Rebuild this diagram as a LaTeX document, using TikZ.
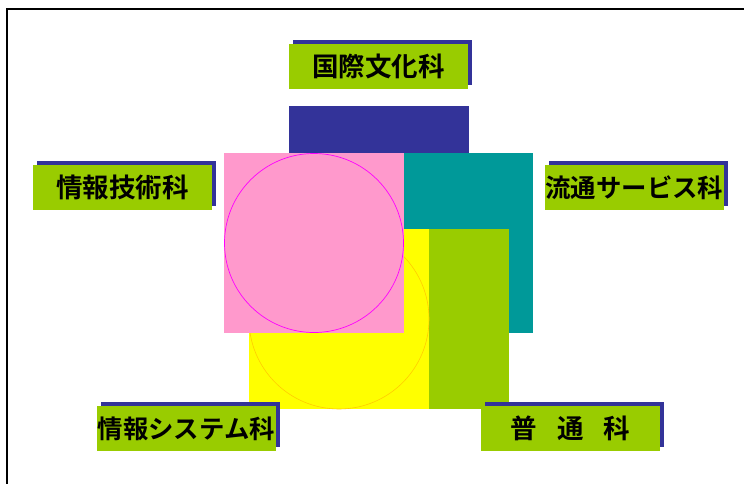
\documentclass[tikz,border=0pt]{standalone}
\usepackage{fontspec}
\newfontfamily\jpfont{Noto Sans CJK JP}[BoldFont={* Bold}]
\usetikzlibrary{shadows}
\definecolor{navy}{HTML}{333399}
\definecolor{lime}{HTML}{99CC00}
\definecolor{tealc}{HTML}{009999}
\definecolor{pinkc}{HTML}{FF99CC}
\definecolor{magc}{HTML}{FF00FF}
\definecolor{yelc}{HTML}{FFFF00}
\definecolor{goldc}{HTML}{FFCC00}
\tikzset{
  label box/.style={fill=lime, minimum width=179pt, minimum height=45pt, inner sep=0pt,
    font=\jpfont\bfseries\fontsize{26.5}{26.5}\selectfont, text=black,
    drop shadow={shadow xshift=4pt, shadow yshift=4pt, fill=navy, opacity=1}},
  long label/.style={label box, font=\jpfont\bfseries\fontsize{25.4}{25.4}\selectfont},
  frame line/.style={line width=1.8pt, black},
}
\begin{document}
\begin{tikzpicture}[x=1pt,y=-1pt]
\useasboundingbox (0,0) rectangle (744,483);
\fill[white] (0,0) rectangle (744,483);
% frame
\draw[frame line] (7,490) -- (7,9) -- (750,9);
% central blocks
\fill[navy] (289,106) rectangle (469,153);
\fill[tealc] (404,153) rectangle (533,333);
\fill[lime] (429,229) rectangle (509,409);
\fill[yelc] (249,229) rectangle (429,409);
\draw[goldc, line width=0.6pt] (339,319) circle[radius=90];
\fill[pinkc] (224,153) rectangle (404,333);
\draw[magc, line width=0.7pt] (314,243) circle[radius=89.5];
% labels
\node[label box] (kokusai) at (378.5,66.5) {国際文化科};
\node[label box] (johogijutsu) at (122.5,187.5) {情報技術科};
\node[long label] (ryutsu) at (634.3,187.5) {流通サービス科};
\node[long label] (johosystem) at (186.3,428.5) {情報システム科};
\node[label box] (futsu) at (570.5,428.5) {普\hspace{20pt}通\hspace{20pt}科};
\end{tikzpicture}
\end{document}
